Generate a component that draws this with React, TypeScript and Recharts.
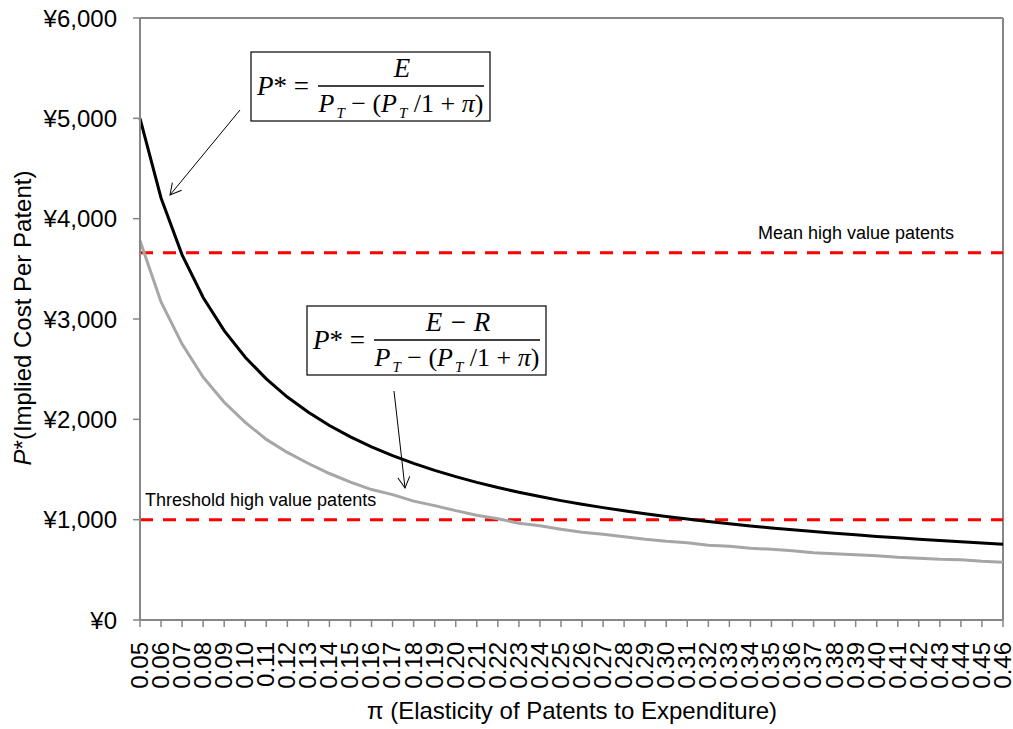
import React from "react";
import { LineChart, Line, XAxis, YAxis, ReferenceLine } from "recharts";

const categories = [
  "0.05", "0.06", "0.07", "0.08", "0.09", "0.10", "0.11", "0.12", "0.13", "0.14",
  "0.15", "0.16", "0.17", "0.18", "0.19", "0.20", "0.21", "0.22", "0.23", "0.24",
  "0.25", "0.26", "0.27", "0.28", "0.29", "0.30", "0.31", "0.32", "0.33", "0.34",
  "0.35", "0.36", "0.37", "0.38", "0.39", "0.40", "0.41", "0.42", "0.43", "0.44",
  "0.45", "0.46",
];

// P* = E / (P_T - (P_T / 1 + π))  (black)
const costE = [
  5000, 4206, 3639, 3214, 2884, 2619, 2403, 2222, 2070, 1939,
  1825, 1726, 1639, 1561, 1491, 1429, 1372, 1320, 1273, 1230,
  1190, 1154, 1120, 1088, 1059, 1032, 1006, 982, 960, 938,
  918, 899, 882, 865, 849, 833, 819, 805, 792, 779,
  767, 756,
];

// P* = (E - R) / (P_T - (P_T / 1 + π))  (grey)
const costER = [
  3780, 3170, 2750, 2420, 2170, 1970, 1800, 1670, 1560, 1460,
  1375, 1300, 1250, 1185, 1140, 1090, 1045, 1010, 965, 940,
  905, 875, 855, 830, 805, 785, 770, 745, 735, 715,
  705, 690, 670, 660, 650, 640, 625, 615, 605, 600,
  585, 575,
];

const yTicks = [0, 1000, 2000, 3000, 4000, 5000, 6000];
const meanHighValue = 3660;
const thresholdHighValue = 1000;

const data = categories.map((pi, i) => ({ pi, e: costE[i], er: costER[i] }));

const AXIS = "#868686";
const FONT = '"Liberation Sans", Arial, sans-serif';
const SERIF = '"Liberation Serif", "Times New Roman", serif';

const yen = (v: number) => "¥" + v.toLocaleString("en-US");

const XTick = (props: any) => {
  const { x, y, payload } = props;
  return (
    <text
      x={x}
      y={y}
      transform={`rotate(-90 ${x} ${y})`}
      textAnchor="end"
      dy="0.33em"
      fontSize={24}
      fontFamily={FONT}
      fill="#000"
    >
      {payload.value}
    </text>
  );
};

const Formula = ({ x, y, numerator }: { x: number; y: number; numerator: string }) => (
  <g transform={`translate(${x},${y})`} fontFamily={SERIF} fill="#000">
    <rect x={0} y={0} width={239} height={69} fill="#fff" stroke="#000" strokeWidth={1.2} />
    <text x={6} y={43} fontSize={27}>
      <tspan fontStyle="italic">P</tspan>
      <tspan>* =</tspan>
    </text>
    <line x1={67} x2={233} y1={34} y2={34} stroke="#000" strokeWidth={1.3} />
    <text x={151} y={25} fontSize={27} textAnchor="middle" fontStyle="italic">
      {numerator}
    </text>
    <text x={150} y={60} fontSize={26} textAnchor="middle">
      <tspan fontStyle="italic">P</tspan>
      <tspan fontStyle="italic" fontSize={15} dy={6} dx={2}>T</tspan>
      <tspan dy={-6}>{" \u2212 ("}</tspan>
      <tspan fontStyle="italic">P</tspan>
      <tspan fontStyle="italic" fontSize={15} dy={6} dx={2}>T</tspan>
      <tspan dy={-6}>{" /1 + "}</tspan>
      <tspan fontStyle="italic">π</tspan>
      <tspan>)</tspan>
    </text>
  </g>
);

export default function App() {
  return (
    <div
      style={{
        position: "absolute",
        left: 0,
        top: 0,
        width: 1013,
        height: 729,
        background: "#fff",
        fontFamily: FONT,
      }}
    >
      <LineChart
        width={1013}
        height={729}
        data={data}
        margin={{ top: 18, right: 10, bottom: 0, left: 0 }}
      >
        <XAxis
          dataKey="pi"
          interval={0}
          tick={<XTick />}
          tickSize={7}
          tickMargin={15}
          height={109}
          axisLine={{ stroke: AXIS, strokeWidth: 2 }}
          tickLine={{ stroke: AXIS, strokeWidth: 1.5 }}
        />
        <YAxis
          domain={[0, 6000]}
          ticks={yTicks}
          tickFormatter={yen}
          width={140}
          tickSize={7}
          tickMargin={16}
          interval={0}
          tick={{ fill: "#000", fontSize: 24, fontFamily: FONT }}
          axisLine={{ stroke: AXIS, strokeWidth: 2 }}
          tickLine={{ stroke: AXIS, strokeWidth: 1.5 }}
        />
        <ReferenceLine y={6000} stroke={AXIS} strokeWidth={2} />
        <ReferenceLine x="0.46" stroke={AXIS} strokeWidth={2} />
        <ReferenceLine
          y={meanHighValue}
          stroke="#FF0000"
          strokeWidth={3}
          strokeDasharray="13 10"
        />
        <ReferenceLine
          y={thresholdHighValue}
          stroke="#FF0000"
          strokeWidth={3}
          strokeDasharray="13 10"
        />
        <Line
          type="linear"
          dataKey="er"
          stroke="#A6A6A6"
          strokeWidth={3}
          dot={false}
          isAnimationActive={false}
        />
        <Line
          type="linear"
          dataKey="e"
          stroke="#000"
          strokeWidth={3}
          dot={false}
          isAnimationActive={false}
        />
      </LineChart>
      <svg
        width={1013}
        height={729}
        style={{ position: "absolute", left: 0, top: 0, pointerEvents: "none" }}
      >
        <defs>
          <marker
            id="arrowHead"
            markerWidth={14}
            markerHeight={14}
            refX={12}
            refY={7}
            orient="auto"
            markerUnits="userSpaceOnUse"
          >
            <path d="M1,1 L12,7 L1,13" fill="none" stroke="#000" strokeWidth={1} />
          </marker>
        </defs>
        <Formula x={251} y={52} numerator="E" />
        <Formula x={307} y={306} numerator={"E \u2212 R"} />
        <line x1={240} y1={110} x2={170} y2={195} stroke="#000" strokeWidth={1} markerEnd="url(#arrowHead)" />
        <line x1={394} y1={391} x2={405} y2={488} stroke="#000" strokeWidth={1} markerEnd="url(#arrowHead)" />
        <text x={856} y={239} fontSize={18} textAnchor="middle" fontFamily={FONT} fill="#000">
          Mean high value patents
        </text>
        <text x={145} y={506} fontSize={18} fontFamily={FONT} fill="#000">
          Threshold high value patents
        </text>
        <text x={572} y={719} fontSize={24} textAnchor="middle" fontFamily={FONT} fill="#000">
          π (Elasticity of Patents to Expenditure)
        </text>
        <text
          transform="translate(31,318) rotate(-90)"
          fontSize={24}
          textAnchor="middle"
          fontFamily={FONT}
          fill="#000"
        >
          <tspan fontStyle="italic">P</tspan>
          <tspan>*(Implied Cost Per Patent)</tspan>
        </text>
      </svg>
    </div>
  );
}
